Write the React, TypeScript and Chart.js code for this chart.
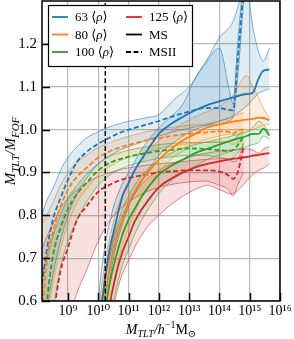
import React, { useEffect, useRef } from "react";
import { Chart, registerables } from "chart.js";

Chart.register(...registerables);

// ---------- data (x values are log10 M_TLT) ----------
const X_TICK_EXPONENTS = [9, 10, 11, 12, 13, 14, 15, 16];
const Y_TICKS = [0.6, 0.7, 0.8, 0.9, 1.0, 1.1, 1.2];
const X_MIN_LOG = 8.14;
const X_MAX_LOG = 16;
const Y_MIN = 0.6;
const Y_MAX = 1.3;
const MS_RESOLUTION_LOG = 10.23;

const LEGEND_NUMBERS = ["63", "80", "100", "125"];
const LEGEND_SIMS = ["MS", "MSII"];
const COLORS = ["#1f77b4", "#ff7f0e", "#2ca02c", "#d62728"];

// MSII (dashed)
const MSII_LOGM = [8.14, 8.3, 8.5, 8.75, 9.0, 9.3, 9.6, 10.0, 10.4, 10.8, 11.2, 11.6, 12.0, 12.5, 13.0, 13.5, 14.0, 14.3, 14.45, 14.6, 14.8];
const MSII_63_MED = [0.64, 0.72, 0.79, 0.84, 0.883, 0.925, 0.947, 0.967, 0.982, 0.995, 1.004, 1.012, 1.02, 1.032, 1.042, 1.05, 1.05, 1.046, 1.045, 1.16, 1.33];
const MSII_63_HI = [0.8, 0.835, 0.862, 0.905, 0.935, 0.96, 0.98, 0.995, 1.007, 1.016, 1.022, 1.028, 1.035, 1.07, 1.1, 1.15, 1.19, 1.1, 1.06, 1.2, 1.36];
const MSII_63_LO = [0.5, 0.58, 0.66, 0.74, 0.8, 0.85, 0.885, 0.92, 0.94, 0.955, 0.965, 0.975, 0.985, 0.995, 1.003, 1.01, 1.012, 1.02, 1.03, 1.12, 1.3];

const MSII_80_MED = [0.56, 0.695, 0.76, 0.82, 0.86, 0.89, 0.91, 0.935, 0.95, 0.96, 0.968, 0.975, 0.98, 0.986, 0.99, 0.993, 0.996, 0.995, 0.99, 0.998, 1.0];
const MSII_80_HI = [0.78, 0.8, 0.83, 0.87, 0.9, 0.925, 0.94, 0.958, 0.97, 0.98, 0.988, 0.995, 1.0, 1.006, 1.01, 1.013, 1.02, 1.025, 1.03, 1.035, 1.04];
const MSII_80_LO = [0.4, 0.55, 0.64, 0.72, 0.78, 0.83, 0.86, 0.895, 0.915, 0.93, 0.94, 0.948, 0.955, 0.962, 0.967, 0.97, 0.972, 0.97, 0.965, 0.97, 0.975];

const MSII_100_MED = [0.5, 0.6, 0.705, 0.77, 0.815, 0.85, 0.875, 0.905, 0.923, 0.933, 0.94, 0.945, 0.95, 0.953, 0.956, 0.955, 0.952, 0.95, 0.953, 0.963, 0.985];
const MSII_100_HI = [0.66, 0.7, 0.75, 0.8, 0.84, 0.87, 0.895, 0.92, 0.938, 0.948, 0.955, 0.96, 0.965, 0.968, 0.97, 0.97, 0.97, 0.972, 0.975, 0.985, 1.0];
const MSII_100_LO = [0.35, 0.45, 0.57, 0.68, 0.74, 0.79, 0.83, 0.87, 0.895, 0.91, 0.92, 0.927, 0.933, 0.937, 0.94, 0.94, 0.935, 0.932, 0.935, 0.945, 0.965];

const MSII_125_MED = [0.4, 0.47, 0.56, 0.67, 0.725, 0.79, 0.82, 0.855, 0.872, 0.884, 0.89, 0.895, 0.9, 0.903, 0.905, 0.905, 0.902, 0.893, 0.885, 0.9, 0.96];
const MSII_125_HI = [0.72, 0.75, 0.78, 0.815, 0.84, 0.86, 0.875, 0.89, 0.9, 0.908, 0.913, 0.917, 0.92, 0.923, 0.927, 0.93, 0.932, 0.93, 0.925, 0.93, 0.97];
const MSII_125_LO = [0.2, 0.3, 0.4, 0.48, 0.55, 0.62, 0.67, 0.74, 0.79, 0.82, 0.84, 0.855, 0.865, 0.873, 0.878, 0.88, 0.87, 0.86, 0.845, 0.87, 0.9];

// MS (solid)
const MS_LOGM = [10.0, 10.1, 10.2, 10.3, 10.4, 10.5, 10.65, 10.8, 11.0, 11.2, 11.4, 11.7, 12.0, 12.4, 12.8, 13.2, 13.6, 14.0, 14.4, 14.9, 15.1, 15.3, 15.45, 15.65];
const MS_63_MED = [0.5, 0.58, 0.64, 0.69, 0.73, 0.76, 0.805, 0.845, 0.875, 0.905, 0.928, 0.96, 0.99, 1.013, 1.03, 1.045, 1.057, 1.066, 1.074, 1.083, 1.086, 1.12, 1.137, 1.14];
const MS_63_HI = [0.6, 0.67, 0.72, 0.76, 0.79, 0.82, 0.85, 0.875, 0.9, 0.925, 0.95, 0.98, 1.005, 1.03, 1.06, 1.12, 1.165, 1.215, 1.245, 1.33, 1.24, 1.18, 1.16, 1.19];
const MS_63_LO = [0.4, 0.48, 0.55, 0.61, 0.66, 0.7, 0.745, 0.78, 0.82, 0.85, 0.875, 0.91, 0.94, 0.965, 0.985, 1.0, 1.01, 1.02, 1.03, 1.055, 1.07, 1.085, 1.09, 1.095];

const MS_80_MED = [0.5, 0.55, 0.6, 0.645, 0.685, 0.72, 0.76, 0.79, 0.83, 0.855, 0.878, 0.905, 0.93, 0.955, 0.975, 0.99, 1.005, 1.012, 1.018, 1.023, 1.025, 1.028, 1.027, 1.022];
const MS_80_HI = [0.58, 0.63, 0.68, 0.72, 0.755, 0.785, 0.82, 0.85, 0.88, 0.905, 0.925, 0.95, 0.975, 0.995, 1.015, 1.03, 1.042, 1.055, 1.075, 1.126, 1.1, 1.074, 1.05, 1.026];
const MS_80_LO = [0.4, 0.45, 0.5, 0.55, 0.6, 0.64, 0.69, 0.73, 0.77, 0.805, 0.835, 0.87, 0.9, 0.93, 0.95, 0.967, 0.978, 0.985, 0.99, 0.995, 1.0, 1.005, 1.01, 1.013];

const MS_100_MED = [0.45, 0.5, 0.56, 0.61, 0.65, 0.68, 0.72, 0.755, 0.79, 0.815, 0.84, 0.87, 0.895, 0.915, 0.93, 0.945, 0.955, 0.965, 0.975, 0.985, 0.99, 0.99, 1.002, 0.986];
const MS_100_HI = [0.55, 0.6, 0.65, 0.69, 0.72, 0.75, 0.785, 0.815, 0.845, 0.87, 0.89, 0.912, 0.93, 0.945, 0.957, 0.965, 0.972, 0.978, 0.985, 0.995, 1.005, 1.02, 1.012, 0.992];
const MS_100_LO = [0.35, 0.4, 0.46, 0.51, 0.56, 0.6, 0.645, 0.685, 0.72, 0.755, 0.785, 0.82, 0.85, 0.88, 0.9, 0.915, 0.93, 0.94, 0.95, 0.96, 0.965, 0.97, 0.985, 0.978];

const MS_125_MED = [0.35, 0.42, 0.48, 0.54, 0.6, 0.635, 0.68, 0.715, 0.75, 0.785, 0.81, 0.84, 0.865, 0.885, 0.9, 0.912, 0.92, 0.926, 0.931, 0.936, 0.939, 0.941, 0.943, 0.945];
const MS_125_HI = [0.55, 0.6, 0.64, 0.68, 0.71, 0.74, 0.775, 0.8, 0.83, 0.85, 0.87, 0.89, 0.905, 0.92, 0.93, 0.94, 0.945, 0.95, 0.952, 0.955, 0.952, 0.945, 0.955, 0.96];
const MS_125_LO = [0.2, 0.3, 0.38, 0.45, 0.52, 0.58, 0.63, 0.665, 0.695, 0.725, 0.75, 0.78, 0.8, 0.825, 0.845, 0.86, 0.87, 0.86, 0.85, 0.88, 0.895, 0.905, 0.91, 0.92];

// ---------- helpers ----------
const SERIF = "'Liberation Serif', 'Times New Roman', 'DejaVu Serif', serif";
const SUP: Record<string, string> = { "0": "\u2070", "1": "\u00B9", "2": "\u00B2", "3": "\u00B3", "4": "\u2074", "5": "\u2075", "6": "\u2076", "7": "\u2077", "8": "\u2078", "9": "\u2079", "-": "\u207B" };
const sup = (n: number) => String(n).split("").map((c) => SUP[c] || c).join("");
const rgba = (hex: string, a: number) => {
  const r = parseInt(hex.slice(1, 3), 16), g = parseInt(hex.slice(3, 5), 16), b = parseInt(hex.slice(5, 7), 16);
  return `rgba(${r},${g},${b},${a})`;
};
const pts = (lx: number[], v: number[]) => lx.map((l, i) => ({ x: Math.pow(10, l), y: v[i] }));

type Seg = { t: string; it?: boolean; sub?: boolean; sup?: boolean };
function drawSegs(ctx: CanvasRenderingContext2D, segs: Seg[], x0: number, cy: number, size: number, center: boolean) {
  const small = Math.round(size * 0.7);
  const fontOf = (s: Seg) => `${s.it ? "italic " : ""}${s.sub || s.sup ? small : size}px ${SERIF}`;
  let total = 0;
  const widths = segs.map((s) => { ctx.font = fontOf(s); const w = ctx.measureText(s.t).width; total += w; return w; });
  let x = center ? x0 - total / 2 : x0;
  ctx.textBaseline = "alphabetic";
  ctx.textAlign = "left";
  segs.forEach((s, i) => {
    ctx.font = fontOf(s);
    const dy = s.sub ? size * 0.25 : s.sup ? -size * 0.4 : 0;
    ctx.fillText(s.t, x, cy + size * 0.33 + dy);
    x += widths[i];
  });
}

const framePlugin = {
  id: "frameAndLabels",
  afterDatasetsDraw(chart: any) {
    const { ctx, chartArea: a, scales } = chart;
    ctx.save();
    ctx.strokeStyle = "#000";
    ctx.lineWidth = 1.5;
    scales.x.ticks.forEach((t: any) => {
      const px = Math.round(scales.x.getPixelForValue(t.value)) + 0.5;
      ctx.beginPath(); ctx.moveTo(px, a.bottom); ctx.lineTo(px, a.bottom - 8); ctx.stroke();
    });
    scales.y.ticks.forEach((t: any) => {
      const py = Math.round(scales.y.getPixelForValue(t.value)) + 0.5;
      ctx.beginPath(); ctx.moveTo(a.left, py); ctx.lineTo(a.left + 8, py); ctx.stroke();
    });
    ctx.lineWidth = 1.5;
    ctx.strokeRect(a.left, a.top, a.right - a.left, a.bottom - a.top);
    ctx.restore();
  },
  afterDraw(chart: any) {
    const { ctx, chartArea: a } = chart;
    ctx.save();
    // legend
    const lx = 48.5, ly = 5.5, lw = 144, lh = 61;
    ctx.fillStyle = "#fff";
    ctx.fillRect(lx, ly, lw, lh);
    ctx.strokeStyle = "#000";
    ctx.lineWidth = 1.2;
    ctx.strokeRect(lx, ly, lw, lh);
    const rows = [17, 34.5, 52];
    const entries = [
      { col: 0, row: 0, color: COLORS[0], dash: [] as number[], num: LEGEND_NUMBERS[0] },
      { col: 0, row: 1, color: COLORS[1], dash: [], num: LEGEND_NUMBERS[1] },
      { col: 0, row: 2, color: COLORS[2], dash: [], num: LEGEND_NUMBERS[2] },
      { col: 1, row: 0, color: COLORS[3], dash: [], num: LEGEND_NUMBERS[3] },
      { col: 1, row: 1, color: "#000", dash: [], label: LEGEND_SIMS[0] },
      { col: 1, row: 2, color: "#000", dash: [5, 2.5], label: LEGEND_SIMS[1] },
    ] as any[];
    entries.forEach((e) => {
      const x0 = e.col === 0 ? 52 : 126;
      const y = rows[e.row];
      ctx.strokeStyle = e.color;
      ctx.lineWidth = 1.8;
      ctx.setLineDash(e.dash);
      ctx.beginPath(); ctx.moveTo(x0, y); ctx.lineTo(x0 + 16, y); ctx.stroke();
      ctx.setLineDash([]);
      ctx.fillStyle = "#000";
      const segs: Seg[] = e.num
        ? [{ t: e.num + " \u27E8" }, { t: "\u03C1", it: true }, { t: "\u27E9" }]
        : [{ t: e.label }];
      drawSegs(ctx, segs, x0 + 23, y, 13, false);
    });
    // y title
    ctx.fillStyle = "#000";
    ctx.save();
    ctx.translate(10, (a.top + a.bottom) / 2);
    ctx.rotate(-Math.PI / 2);
    drawSegs(ctx, [
      { t: "M", it: true }, { t: "TLT", it: true, sub: true }, { t: "/", it: true },
      { t: "M", it: true }, { t: "FOF", it: true, sub: true },
    ], 0, 0, 15, true);
    ctx.restore();
    // x title
    drawSegs(ctx, [
      { t: "M", it: true }, { t: "TLT", it: true, sub: true }, { t: "/", it: true }, { t: "h", it: true },
      { t: "\u22121", sup: true }, { t: "M" }, { t: "\u2299", sub: true },
    ], (a.left + a.right) / 2, 329, 14, true);
    ctx.restore();
  },
};

export default function App() {
  const ref = useRef<HTMLCanvasElement>(null);
  useEffect(() => {
    document.body.style.margin = "0";
    const canvas = ref.current!;
    const datasets: any[] = [];
    const base = { pointRadius: 0, cubicInterpolationMode: "monotone" as const, fill: false };
    datasets.push({
      ...base, data: [{ x: Math.pow(10, MS_RESOLUTION_LOG), y: Y_MIN }, { x: Math.pow(10, MS_RESOLUTION_LOG), y: Y_MAX }],
      borderColor: "#000", borderWidth: 1.5, borderDash: [5, 2.5],
    });
    const ms = [[MS_63_MED, MS_63_LO, MS_63_HI], [MS_80_MED, MS_80_LO, MS_80_HI], [MS_100_MED, MS_100_LO, MS_100_HI], [MS_125_MED, MS_125_LO, MS_125_HI]];
    const msii = [[MSII_63_MED, MSII_63_LO, MSII_63_HI], [MSII_80_MED, MSII_80_LO, MSII_80_HI], [MSII_100_MED, MSII_100_LO, MSII_100_HI], [MSII_125_MED, MSII_125_LO, MSII_125_HI]];
    ms.forEach((g, i) => datasets.push({ ...base, data: pts(MS_LOGM, g[0]), borderColor: COLORS[i], borderWidth: 1.8 }));
    msii.forEach((g, i) => datasets.push({ ...base, data: pts(MSII_LOGM, g[0]), borderColor: COLORS[i], borderWidth: 1.8, borderDash: [5, 2.5] }));
    const band = (lxs: number[], lo: number[], hi: number[], c: string) => {
      datasets.push({ ...base, data: pts(lxs, hi), borderColor: rgba(c, 0.7), borderWidth: 0.8, fill: "+1", backgroundColor: rgba(c, 0.14) });
      datasets.push({ ...base, data: pts(lxs, lo), borderColor: rgba(c, 0.7), borderWidth: 0.8 });
    };
    ms.forEach((g, i) => band(MS_LOGM, g[1], g[2], COLORS[i]));
    msii.forEach((g, i) => band(MSII_LOGM, g[1], g[2], COLORS[i]));

    const chart = new Chart(canvas, {
      type: "line",
      data: { datasets },
      options: {
        animation: false,
        responsive: false,
        devicePixelRatio: 1,
        parsing: false as any,
        normalized: true,
        layout: { padding: { top: 1, right: 14, left: 0, bottom: 0 } },
        plugins: { legend: { display: false }, tooltip: { enabled: false } },
        scales: {
          x: {
            type: "logarithmic",
            min: Math.pow(10, X_MIN_LOG),
            max: Math.pow(10, X_MAX_LOG),
            afterBuildTicks: (s: any) => { s.ticks = X_TICK_EXPONENTS.map((e) => ({ value: Math.pow(10, e) })); },
            afterFit: (s: any) => { s.height = 38; s.paddingLeft = 0; s.paddingRight = 0; },
            grid: { color: "#b8b8b8", lineWidth: 1.2, drawTicks: false },
            border: { display: false },
            ticks: {
              autoSkip: false, maxRotation: 0, padding: 2, color: "#000",
              font: { family: SERIF, size: 14 },
              callback: (v: any) => "10" + sup(Math.round(Math.log10(Number(v)))),
            },
          },
          y: {
            type: "linear",
            min: Y_MIN,
            max: Y_MAX,
            afterBuildTicks: (s: any) => { s.ticks = Y_TICKS.map((v) => ({ value: v })); },
            afterFit: (s: any) => { s.width = 42; s.paddingTop = 0; s.paddingBottom = 0; },
            grid: { color: "#b8b8b8", lineWidth: 1.2, drawTicks: false },
            border: { display: false },
            ticks: {
              autoSkip: false, padding: 5, color: "#000",
              font: { family: SERIF, size: 15 },
              callback: (v: any) => Number(v).toFixed(1),
            },
          },
        },
      },
      plugins: [framePlugin],
    });
    return () => chart.destroy();
  }, []);
  return (
    <div style={{ width: 294, height: 339 }}>
      <canvas ref={ref} width={294} height={339} />
    </div>
  );
}
